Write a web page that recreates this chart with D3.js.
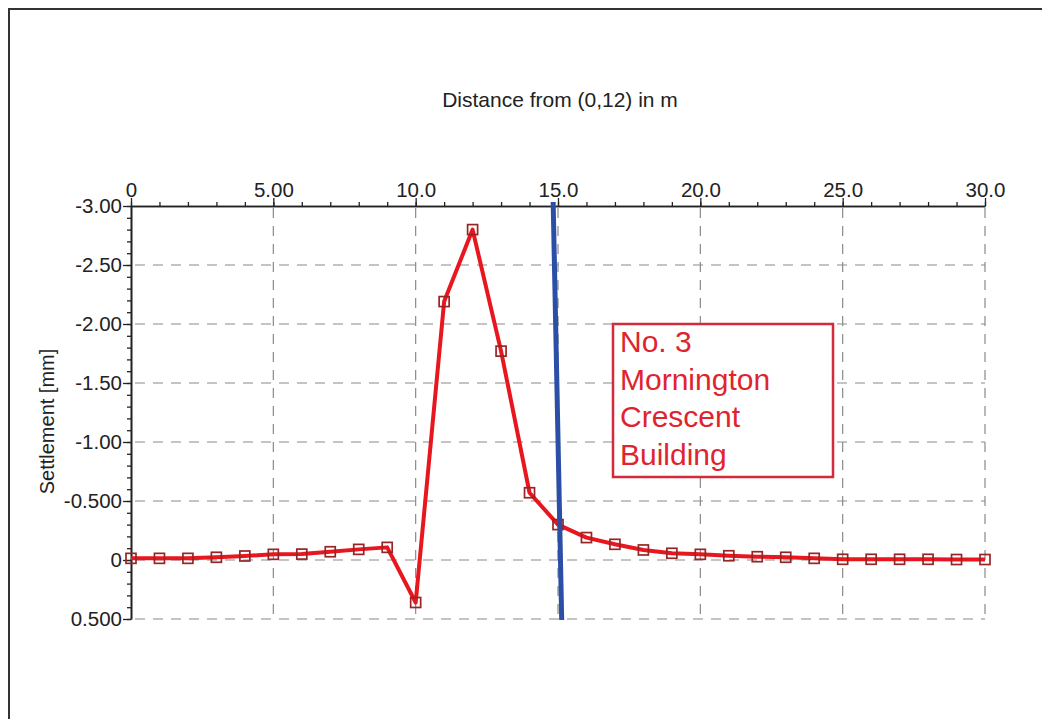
<!DOCTYPE html>
<html>
<head>
<meta charset="utf-8">
<script src="https://cdn.jsdelivr.net/npm/d3@7"></script>
<style>
  html, body { margin: 0; padding: 0; background: #fff; }
  svg { display: block; }
  text { font-family: "Liberation Sans", Arial, sans-serif; }
</style>
</head>
<body>
<svg id="chart" width="1042" height="719"></svg>
<script>
// Settlement profile along the section, distance in m from (0,12)
const distances = [0, 1, 2, 3, 4, 5, 6, 7, 8, 9, 10, 11, 12, 13, 14, 15,
                   16, 17, 18, 19, 20, 21, 22, 23, 24, 25, 26, 27, 28, 29, 30];
const settlement = [-0.014, -0.014, -0.014, -0.023, -0.034, -0.048, -0.05, -0.07, -0.09, -0.107,
                    0.36, -2.19, -2.80, -1.77, -0.57, -0.30,
                    -0.19, -0.133, -0.085, -0.057, -0.048, -0.036, -0.028, -0.023, -0.014,
                    -0.006, -0.006, -0.006, -0.006, -0.004, -0.004];

// Building edge marker (blue line), drawn between two points
const edgeX = [14.83, 15.13];
const edgeY = [-3.034, 0.508];

// Axis ticks and labels
const xMajor = [0, 5, 10, 15, 20, 25, 30];
const xLabels = ["0", "5.00", "10.0", "15.0", "20.0", "25.0", "30.0"];
const xMinor = d3.range(0, 31, 1);
const yMajor = [-3, -2.5, -2, -1.5, -1, -0.5, 0, 0.5];
const yLabels = ["-3.00", "-2.50", "-2.00", "-1.50", "-1.00", "-0.500", "0", "0.500"];
const yMinor = d3.range(-30, 6, 1).map(v => v / 10);

const titleText = "Distance from (0,12) in m";
const yTitle = "Settlement [mm]";
const noteLines = ["No. 3", "Mornington", "Crescent", "Building"];

const svg = d3.select("#chart");
const W = 1042, H = 719;

// outer frame
svg.append("rect").attr("x", 9).attr("y", 9)
  .attr("width", W + 40).attr("height", H + 40)
  .attr("fill", "#fff").attr("stroke", "#333").attr("stroke-width", 2);

const x = d3.scaleLinear().domain([0, 30]).range([131, 985]);
const y = d3.scaleLinear().domain([-3, 0.5]).range([206, 619]);

// dashed grid
const grid = svg.append("g")
  .attr("stroke", "#8a8a8a").attr("stroke-width", 1.2)
  .attr("stroke-dasharray", "10,8");
grid.selectAll("line.gx").data(xMajor.filter(v => v > 0)).join("line")
  .attr("x1", d => x(d)).attr("x2", d => x(d))
  .attr("y1", y(-3) + 2).attr("y2", y(0.5));
grid.selectAll("line.gy").data(yMajor.filter(v => v > -3)).join("line")
  .attr("x1", x(0) + 4).attr("x2", x(30))
  .attr("y1", d => y(d)).attr("y2", d => y(d));

// axes
const axisStyle = g => {
  g.selectAll("path.domain").attr("stroke", "#222").attr("stroke-width", 1.6);
  g.selectAll(".tick line").attr("stroke", "#222").attr("stroke-width", 1.3);
  g.selectAll("text").attr("font-size", 20.5).attr("fill", "#222")
    .attr("font-family", "'Liberation Sans', Arial, sans-serif");
};

svg.append("g").attr("transform", `translate(0,${y(-3)})`)
  .call(d3.axisTop(x).tickValues(xMinor).tickSize(4).tickFormat("").tickSizeOuter(0))
  .call(axisStyle);
svg.append("g").attr("transform", `translate(0,${y(-3)})`)
  .call(d3.axisTop(x).tickValues(xMajor).tickSize(8).tickPadding(1)
    .tickFormat((d, i) => xLabels[i]).tickSizeOuter(0))
  .call(axisStyle);

svg.append("g").attr("transform", `translate(${x(0)},0)`)
  .call(d3.axisLeft(y).tickValues(yMinor).tickSize(4).tickFormat("").tickSizeOuter(0))
  .call(axisStyle);
svg.append("g").attr("transform", `translate(${x(0)},0)`)
  .call(d3.axisLeft(y).tickValues(yMajor).tickSize(8).tickPadding(1)
    .tickFormat((d, i) => yLabels[i]).tickSizeOuter(0))
  .call(axisStyle);

// titles
svg.append("text").attr("x", 560).attr("y", 107)
  .attr("text-anchor", "middle").attr("font-size", 21).attr("fill", "#222")
  .text(titleText);
svg.append("text")
  .attr("transform", `translate(54,${(y(-3) + y(0.5)) / 2 + 9}) rotate(-90)`)
  .attr("text-anchor", "middle").attr("font-size", 20).attr("fill", "#222")
  .text(yTitle);

// settlement curve
const pts = distances.map((d, i) => [d, settlement[i]]);
svg.append("path").datum(pts)
  .attr("fill", "none").attr("stroke", "#e8161e").attr("stroke-width", 4)
  .attr("stroke-linejoin", "round")
  .attr("d", d3.line().x(d => x(d[0])).y(d => y(d[1])));

svg.append("g").selectAll("rect").data(pts).join("rect")
  .attr("x", d => x(d[0]) - 5).attr("y", d => y(d[1]) - 5)
  .attr("width", 10).attr("height", 10)
  .attr("fill", "none").attr("stroke", "#962626").attr("stroke-width", 1.7);

// building edge
svg.append("line")
  .attr("x1", x(edgeX[0])).attr("y1", y(edgeY[0]))
  .attr("x2", x(edgeX[1])).attr("y2", y(edgeY[1]))
  .attr("stroke", "#2b4ea6").attr("stroke-width", 5);

// annotation box
svg.append("rect").attr("x", 613).attr("y", 324).attr("width", 220).attr("height", 153)
  .attr("fill", "#fff").attr("stroke", "#d42a3a").attr("stroke-width", 2.5);
svg.append("g").selectAll("text").data(noteLines).join("text")
  .attr("x", 620).attr("y", (d, i) => 352 + i * 37.7)
  .attr("font-size", 30).attr("fill", "#e0242e")
  .text(d => d);
</script>
</body>
</html>
